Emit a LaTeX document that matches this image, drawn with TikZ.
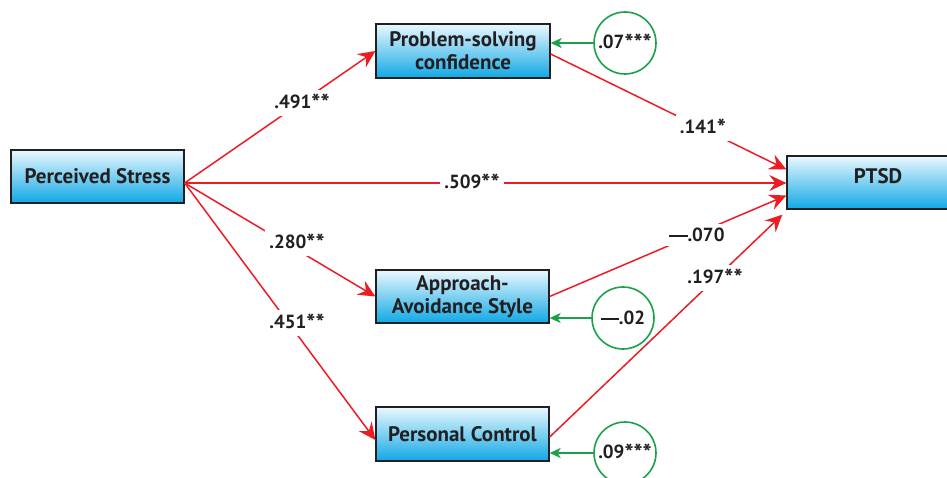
\documentclass[tikz,border=0pt]{standalone}
\usepackage{fontspec}
\setmainfont{PT Sans}
\usetikzlibrary{arrows.meta,calc}
\definecolor{myred}{HTML}{ED1C24}
\definecolor{mygreen}{HTML}{1BA14B}
\definecolor{ink}{HTML}{231F20}
\definecolor{boxtop}{HTML}{EAF8FE}
\definecolor{boxbot}{HTML}{10A8E5}
\newcommand\stars[1]{{\fontsize{24}{24}\selectfont\raisebox{-0.12em}{#1}}}
\newcommand\mdash{\rule[0.27em]{0.95em}{0.1em}}
\begin{document}
\begin{tikzpicture}[x=1pt,y=-1pt,
  varbox/.style={draw=ink, line width=1.3pt, top color=boxtop, bottom color=boxbot,
    font=\fontsize{21}{23}\selectfont\bfseries, text=ink, align=center, inner sep=0pt,
    minimum width=173pt, minimum height=53pt},
  gcircle/.style={circle, draw=mygreen, line width=1.6pt, minimum size=62pt, inner sep=0pt,
    font=\fontsize{19}{21}\selectfont\bfseries, text=ink},
  coef/.style={fill=white, inner sep=4pt, font=\fontsize{19}{21}\selectfont\bfseries, text=ink},
  redarrow/.style={draw=myred, line width=1.5pt, -{Stealth[length=17pt,width=16pt,inset=6pt]}},
  greenarrow/.style={draw=mygreen, line width=1.7pt, -{Stealth[length=11pt,width=10pt,inset=3pt]}}]
\useasboundingbox (0,0) rectangle (947,478);
\clip (0,0) rectangle (947,478);
% boxes
\node[varbox] (ps) at (97.5,176.5) {Perceived Stress};
\node[varbox, minimum width=174pt, minimum height=54pt] (psc) at (463,51) {Problem-solving\\confidence};
\node[varbox] (ap) at (462.5,296.5) {Approach-\\Avoidance Style};
\node[varbox, minimum height=54pt] (pc) at (462.5,434) {Personal Control};
\node[varbox, minimum width=182pt, text depth=12pt] (ptsd) at (878,182.5) {PTSD};
% circles
\node[gcircle] (c1) at (625,43) {\makebox[0pt][c]{.07\stars{***}}};
\node[gcircle] (c2) at (623,318) {\makebox[0pt][c]{\mdash.02}};
\node[gcircle] (c3) at (625,453) {\makebox[0pt][c]{.09\stars{***}}};
% anchors
\coordinate (src) at ($(ps.east)+(0,6.5)$);
% red paths
\draw[redarrow] (src) -- (psc.west);
\draw[redarrow] (src) -- (ap.west);
\draw[redarrow] (src) -- ($(pc.west)+(0,6)$);
\draw[redarrow] (src) -- (src -| ptsd.west);
\draw[redarrow] ($(psc.east)+(0,3)$) -- ($(ptsd.west)+(0,-13)$);
\draw[redarrow] (ap.east) -- ($(ptsd.west)+(0,13)$);
\draw[redarrow] ($(pc.east)+(0,3)$) -- ($(ptsd.south west)+(-4,5)$);
% green paths
\draw[greenarrow] (c1.west) -- (c1.west -| psc.east);
\draw[greenarrow] (c2.west) -- (c2.west -| ap.east);
\draw[greenarrow] (c3.west) -- (c3.west -| pc.east);
% coefficient labels
\node[coef] (l1) at (302,103) {.491\stars{**}};
\node[coef, inner ysep=1pt] (l2) at (472,183) {.509\stars{**}};
\node[coef] (l3) at (297,243) {.280\stars{**}};
\node[coef] (l4) at (297,323) {.451\stars{**}};
\node[coef] (l5) at (703,128) {.141\stars{*}};
\node[coef] (l6) at (697,235) {\mdash.070};
\node[coef] (l7) at (715,278) {.197\stars{**}};
\end{tikzpicture}
\end{document}
